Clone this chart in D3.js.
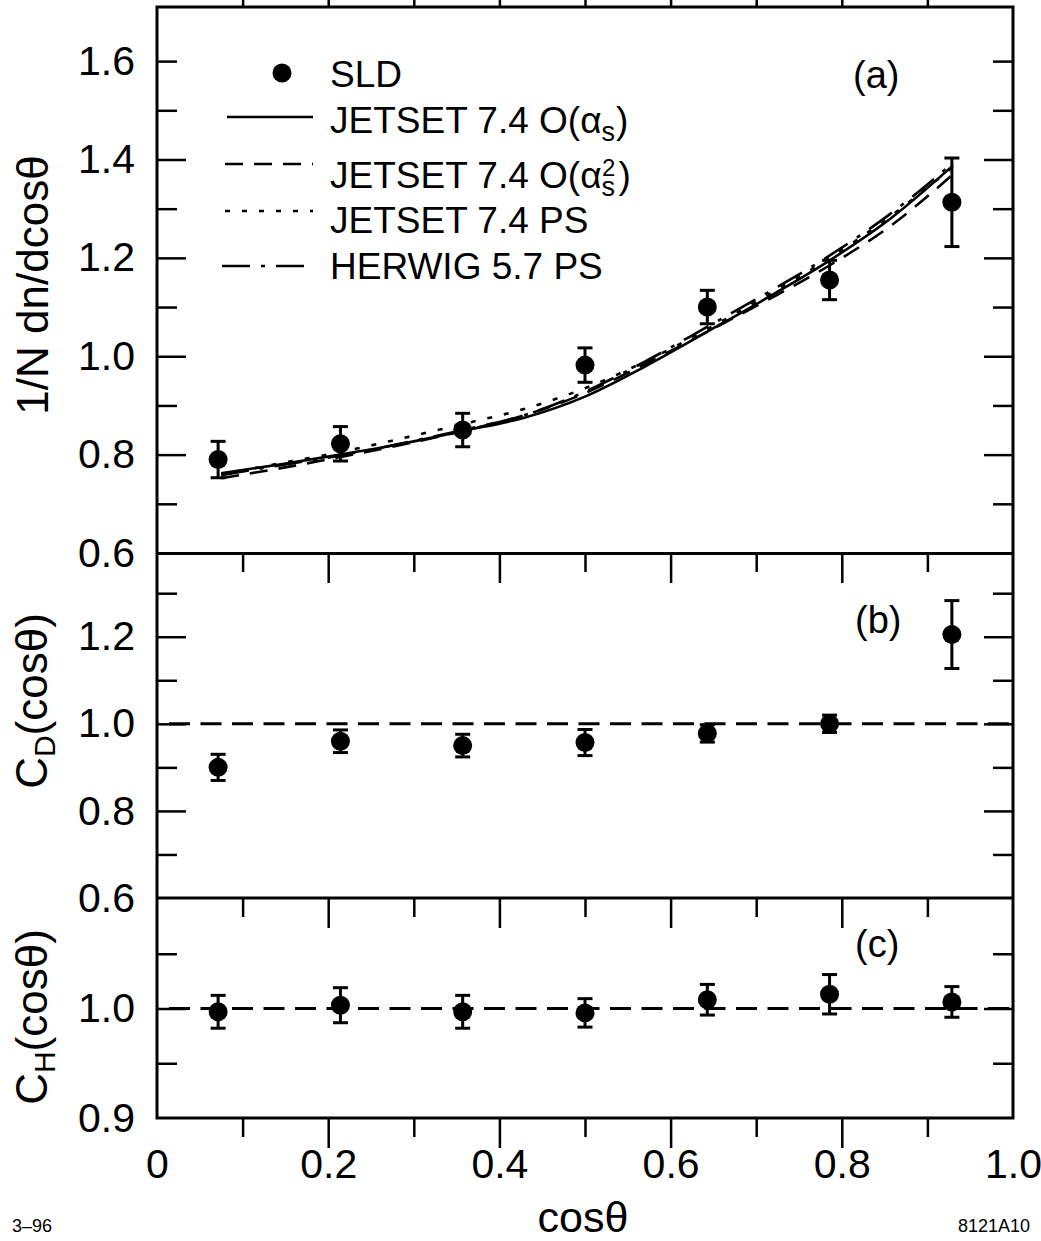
<!DOCTYPE html>
<html><head><meta charset="utf-8">
<script src="https://cdn.jsdelivr.net/npm/d3@7"></script>
<style>body{margin:0;background:#fff}svg{display:block}text{font-family:"Liberation Sans",Arial,sans-serif;fill:#000}</style>
</head><body>
<script>
// ---- data ----
const xBins = [0.0714, 0.2143, 0.3571, 0.5, 0.6429, 0.7857, 0.9286];
const sldA = [0.790, 0.822, 0.850, 0.982, 1.100, 1.155, 1.313];
const errA = [0.037, 0.035, 0.034, 0.035, 0.034, 0.040, 0.090];
const cD = [0.900, 0.960, 0.950, 0.957, 0.978, 1.000, 1.205];
const errD = [0.030, 0.026, 0.026, 0.030, 0.020, 0.020, 0.078];
const cH = [0.997, 1.003, 0.997, 0.996, 1.008, 1.013, 1.006];
const errH = [0.015, 0.016, 0.015, 0.013, 0.014, 0.018, 0.014];
const curveX = [0.075, 0.143, 0.214, 0.286, 0.357, 0.429, 0.5, 0.571, 0.643, 0.714, 0.786, 0.857, 0.930];
const jetsetAs = [0.762, 0.780, 0.800, 0.822, 0.848, 0.875, 0.918, 0.980, 1.050, 1.120, 1.195, 1.280, 1.388];
const jetsetAs2 = [0.752, 0.772, 0.795, 0.820, 0.848, 0.880, 0.925, 0.985, 1.050, 1.115, 1.185, 1.265, 1.370];
const jetsetPS = [0.760, 0.782, 0.805, 0.833, 0.862, 0.893, 0.935, 0.990, 1.055, 1.125, 1.200, 1.285, 1.385];
const herwigPS = [0.758, 0.778, 0.798, 0.823, 0.850, 0.880, 0.928, 0.990, 1.060, 1.130, 1.205, 1.290, 1.393];
const xTickLabels = [0, 0.2, 0.4, 0.6, 0.8, 1.0];
const yTicksA = [0.6, 0.8, 1.0, 1.2, 1.4, 1.6];
const yTicksB = [0.6, 0.8, 1.0, 1.2];
const yTicksC = [0.9, 1.0];

// ---- layout ----
const W = 1041, H = 1241;
const svg = d3.select("body").append("svg").attr("width", W).attr("height", H);
const x = d3.scaleLinear([0, 1], [157, 1013]);
const ya = d3.scaleLinear([0.6, 1.71], [553, 7]);
const yb = d3.scaleLinear([0.6, 1.39], [898, 554]);
const yc = d3.scaleLinear([0.9, 1.1], [1118, 899]);
const L = 157, R = 1013;
const LW = 3;

function ticksY(y, major, minor) {
  const g = svg.append("g");
  g.append("g").attr("transform", `translate(${L},0)`).call(d3.axisLeft(y).tickValues(major).tickSize(-29).tickFormat(""));
  g.append("g").attr("transform", `translate(${L},0)`).call(d3.axisLeft(y).tickValues(minor).tickSize(-20).tickFormat(""));
  g.append("g").attr("transform", `translate(${R},0)`).call(d3.axisRight(y).tickValues(major).tickSize(-29).tickFormat(""));
  g.append("g").attr("transform", `translate(${R},0)`).call(d3.axisRight(y).tickValues(minor).tickSize(-20).tickFormat(""));
  g.selectAll(".domain").remove();
  g.selectAll("line").attr("stroke", "#000").attr("stroke-width", 2.5);
}
function ticksX(yPos, dir) {
  const g = svg.append("g").attr("transform", `translate(0,${yPos})`);
  const mk = dir > 0 ? d3.axisBottom : d3.axisTop;
  g.append("g").call(mk(x).tickValues([0.2, 0.4, 0.6, 0.8]).tickSize(-30).tickFormat(""));
  g.append("g").call(mk(x).tickValues([0.1, 0.3, 0.5, 0.7, 0.9]).tickSize(-19).tickFormat(""));
  g.selectAll(".domain").remove();
  g.selectAll("line").attr("stroke", "#000").attr("stroke-width", 2.5);
}
function labelsY(y, vals) {
  const g = svg.append("g").attr("transform", `translate(${L},0)`)
    .call(d3.axisLeft(y).tickValues(vals).tickSize(0).tickPadding(22).tickFormat(d3.format(".1f")));
  g.select(".domain").remove();
  g.selectAll("text").attr("font-size", 41).attr("font-family", "Liberation Sans, Arial, sans-serif");
}

// ticks
ticksY(ya, [0.8, 1.0, 1.2, 1.4], [0.7, 0.9, 1.1, 1.3, 1.5, 1.6]);
ticksY(yb, [0.8, 1.0, 1.2], [0.7, 0.9, 1.1, 1.3]);
ticksY(yc, [1.0], [0.95, 1.05]);
ticksX(7, 1);
ticksX(553, -1);
ticksX(898, -1);
ticksX(1118, -1);

labelsY(ya, yTicksA);
labelsY(yb, yTicksB);
labelsY(yc, yTicksC);

// x labels
const gx = svg.append("g").attr("transform", `translate(0,1118)`)
  .call(d3.axisBottom(x).tickValues(xTickLabels).tickSize(0).tickPadding(31).tickFormat(d => d === 0 ? "0" : d3.format(".1f")(d)));
gx.select(".domain").remove();
gx.selectAll("text").attr("font-size", 41).attr("font-family", "Liberation Sans, Arial, sans-serif");

// frames
const frame = svg.append("g").attr("stroke", "#000").attr("stroke-width", LW).attr("fill", "none");
frame.append("rect").attr("x", L).attr("y", 7).attr("width", R - L).attr("height", 1118 - 7);
frame.append("line").attr("x1", L).attr("x2", R).attr("y1", 553.5).attr("y2", 553.5);
frame.append("line").attr("x1", L).attr("x2", R).attr("y1", 898).attr("y2", 898);

// reference dashed lines
svg.append("line").attr("x1", L).attr("x2", R).attr("y1", yb(1.0)).attr("y2", yb(1.0))
  .attr("stroke", "#000").attr("stroke-width", 3).attr("stroke-dasharray", "21,10.5").attr("stroke-dashoffset", -12);
svg.append("line").attr("x1", L).attr("x2", R).attr("y1", yc(1.0)).attr("y2", yc(1.0))
  .attr("stroke", "#000").attr("stroke-width", 3).attr("stroke-dasharray", "21,10.5").attr("stroke-dashoffset", -12);

// curves panel a
const curves = [
  {v: jetsetAs, dash: null},
  {v: jetsetAs2, dash: "18,11"},
  {v: jetsetPS, dash: "5,12"},
  {v: herwigPS, dash: "28,11,4,11"}
];
const line = d3.line().x(d => x(d[0])).y(d => ya(d[1])).curve(d3.curveMonotoneX);
curves.forEach(c => {
  svg.append("path").datum(curveX.map((cx, i) => [cx, c.v[i]]))
    .attr("d", line).attr("fill", "none").attr("stroke", "#000").attr("stroke-width", 2.6)
    .attr("stroke-dasharray", c.dash);
});

// data points
function points(y, vals, errs) {
  const g = svg.append("g");
  xBins.forEach((xv, i) => {
    const cx = x(xv), t = y(vals[i] + errs[i]), b = y(vals[i] - errs[i]);
    g.append("line").attr("x1", cx).attr("x2", cx).attr("y1", t).attr("y2", b).attr("stroke", "#000").attr("stroke-width", 3);
    g.append("line").attr("x1", cx - 7.5).attr("x2", cx + 7.5).attr("y1", t).attr("y2", t).attr("stroke", "#000").attr("stroke-width", 3);
    g.append("line").attr("x1", cx - 7.5).attr("x2", cx + 7.5).attr("y1", b).attr("y2", b).attr("stroke", "#000").attr("stroke-width", 3);
    g.append("circle").attr("cx", cx).attr("cy", y(vals[i])).attr("r", 9.5).attr("fill", "#000");
  });
}
points(ya, sldA, errA);
points(yb, cD, errD);
points(yc, cH, errH);

// legend
const lg = svg.append("g");
lg.append("circle").attr("cx", 282).attr("cy", 73).attr("r", 9.5).attr("fill", "#000");
const legLines = [
  {y: 117, x1: 227, x2: 313, dash: null},
  {y: 164, x1: 225, x2: 313, dash: "18,11"},
  {y: 211, x1: 225, x2: 313, dash: "5,12"},
  {y: 266, x1: 222, x2: 310, dash: "28,11,4,11"}
];
legLines.forEach(l => lg.append("line").attr("x1", l.x1).attr("x2", l.x2).attr("y1", l.y).attr("y2", l.y)
  .attr("stroke", "#000").attr("stroke-width", 2.6).attr("stroke-dasharray", l.dash));
const fs = 37;
lg.append("text").attr("x", 330).attr("y", 87).attr("font-size", fs).text("SLD");
let t1 = lg.append("text").attr("x", 330).attr("y", 133).attr("font-size", fs);
t1.append("tspan").text("JETSET 7.4 O(α");
t1.append("tspan").attr("font-size", 27).attr("dy", 8).text("s");
t1.append("tspan").attr("dy", -8).attr("dx", 1).text(")");
let t2 = lg.append("text").attr("x", 330).attr("y", 188).attr("font-size", fs);
t2.append("tspan").text("JETSET 7.4 O(α");
t2.append("tspan").attr("font-size", 27).attr("dy", 8).text("s");
t2.append("tspan").attr("font-size", 24).attr("dx", -13).attr("dy", -20).text("2");
t2.append("tspan").attr("dy", 12).attr("dx", 3).text(")");
lg.append("text").attr("x", 330).attr("y", 233).attr("font-size", fs).text("JETSET 7.4 PS");
lg.append("text").attr("x", 330).attr("y", 279).attr("font-size", fs).text("HERWIG 5.7 PS");

// panel labels
svg.append("text").attr("x", 853).attr("y", 88).attr("font-size", 38).text("(a)");
svg.append("text").attr("x", 855).attr("y", 633).attr("font-size", 38).text("(b)");
svg.append("text").attr("x", 855).attr("y", 957).attr("font-size", 38).text("(c)");

// axis titles
svg.append("text").attr("transform", "translate(48,285) rotate(-90)").attr("text-anchor", "middle")
  .attr("font-size", 44).text("1/N dn/dcosθ");
let cd = svg.append("text").attr("transform", "translate(47,701) rotate(-90)").attr("text-anchor", "middle").attr("font-size", 44);
cd.append("tspan").text("C");
cd.append("tspan").attr("font-size", 30).attr("dy", 8).text("D");
cd.append("tspan").attr("dy", -8).text("(cosθ)");
let ch = svg.append("text").attr("transform", "translate(47,1017) rotate(-90)").attr("text-anchor", "middle").attr("font-size", 44);
ch.append("tspan").text("C");
ch.append("tspan").attr("font-size", 30).attr("dy", 8).text("H");
ch.append("tspan").attr("dy", -8).text("(cosθ)");

svg.append("text").attr("x", 583).attr("y", 1232).attr("text-anchor", "middle").attr("font-size", 43).text("cosθ");
svg.append("text").attr("x", 12).attr("y", 1232).attr("font-size", 18).text("3–96");
svg.append("text").attr("x", 1030).attr("y", 1232).attr("text-anchor", "end").attr("font-size", 18).text("8121A10");
</script>
</body></html>
